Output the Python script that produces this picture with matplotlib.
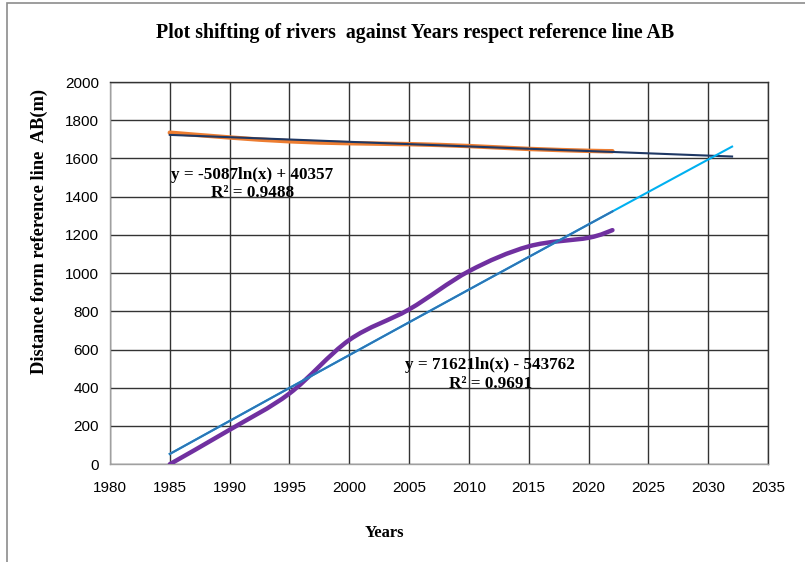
import numpy as np
import matplotlib
matplotlib.use("Agg")
import matplotlib.pyplot as plt
from matplotlib.path import Path
from matplotlib.patches import PathPatch, Rectangle

# ---- data ----
years = [1985, 1990, 1995, 2000, 2005, 2010, 2015, 2020, 2022]
river_a = [1735, 1710, 1690, 1680, 1675, 1665, 1650, 1640, 1638]   # orange
river_b = [0, 180, 370, 650, 810, 1010, 1140, 1185, 1225]          # purple
trend_end = 2032
x_ticks = [1980, 1985, 1990, 1995, 2000, 2005, 2010, 2015, 2020, 2025, 2030, 2035]
y_ticks = [0, 200, 400, 600, 800, 1000, 1200, 1400, 1600, 1800, 2000]
eq_a = "y = -5087ln(x) + 40357\nR² = 0.9488"
eq_b = "y = 71621ln(x) - 543762\nR² = 0.9691"

serif = "Liberation Serif"
sans = "Liberation Sans"

fig = plt.figure(figsize=(8.05, 5.62), dpi=100)
ax = fig.add_axes([0.1366, 0.174, 0.8174, 0.680])

def smooth_path(xs, ys):
    pts = np.column_stack([xs, ys]).astype(float)
    verts = [pts[0]]
    codes = [Path.MOVETO]
    n = len(pts)
    for i in range(n - 1):
        p0 = pts[i - 1] if i > 0 else pts[i]
        p1 = pts[i]
        p2 = pts[i + 1]
        p3 = pts[i + 2] if i + 2 < n else pts[i + 1]
        c1 = p1 + (p2 - p0) / 6.0
        c2 = p2 - (p3 - p1) / 6.0
        verts += [c1, c2, p2]
        codes += [Path.CURVE4] * 3
    return Path(verts, codes)

def log_trend(xs, ys, x0, x1):
    c = np.polyfit(np.log(xs), ys, 1)
    xx = np.linspace(x0, x1, 200)
    return xx, c[0] * np.log(xx) + c[1]

# smoothed data series
ax.add_patch(PathPatch(smooth_path(years, river_a), fill=False,
                       edgecolor="#ED7D31", lw=3.2, capstyle="round", zorder=3))
ax.add_patch(PathPatch(smooth_path(years, river_b), fill=False,
                       edgecolor="#7030A0", lw=3.2, capstyle="round", zorder=3))

# trend lines
tx, ty = log_trend(years, river_a, years[0], trend_end)
ax.plot(tx, ty, color="#1F3864", lw=1.5, zorder=4)
tx, ty = log_trend(years, river_b, years[0], trend_end)
ax.plot(tx, ty, color="#00B0F0", lw=1.5, zorder=4)
tx2, ty2 = log_trend(years, river_b, years[0], years[-1])
ax.plot(tx2, ty2, color="#2E75B6", lw=1.5, zorder=4)

ax.set_xlim(x_ticks[0], x_ticks[-1])
ax.set_ylim(y_ticks[0], y_ticks[-1])
ax.set_xticks(x_ticks)
ax.set_yticks(y_ticks)
ax.grid(True, color="#333333", lw=1.0, zorder=0)
ax.set_axisbelow(True)
for s in ax.spines.values():
    s.set_color("#333333")
    s.set_linewidth(1.0)
ax.spines["bottom"].set_color("#A0A0A0")
ax.spines["left"].set_color("#A0A0A0")
ax.tick_params(length=0, labelsize=11)
for lab in ax.get_xticklabels() + ax.get_yticklabels():
    lab.set_family(sans)
ax.tick_params(axis="x", pad=12)
ax.tick_params(axis="y", pad=8)

ax.text(1991.9, 1465, eq_a, ha="center", va="center", family=serif,
        fontweight="bold", fontsize=12.3, linespacing=1.2, zorder=5)
ax.text(2011.8, 470, eq_b, ha="center", va="center", family=serif,
        fontweight="bold", fontsize=12.3, linespacing=1.2, zorder=5)

fig.text(0.515, 0.942, "Plot shifting of rivers  against Years respect reference line AB",
         ha="center", va="center", family=serif, fontweight="bold", fontsize=14.3)
fig.text(0.478, 0.051, "Years", ha="center", va="center", family=serif,
         fontweight="bold", fontsize=12)
fig.text(0.049, 0.588, "Distance form reference line  AB(m)", ha="center", va="center",
         rotation=90, family=serif, fontweight="bold", fontsize=13.3)

fig.patches.append(Rectangle((7 / 805, -0.1), 1.2, 1.1 - 3 / 562,
                             transform=fig.transFigure, fill=False,
                             edgecolor="#8C8C8C", lw=1.2))

fig.savefig("out.png", dpi=100)
